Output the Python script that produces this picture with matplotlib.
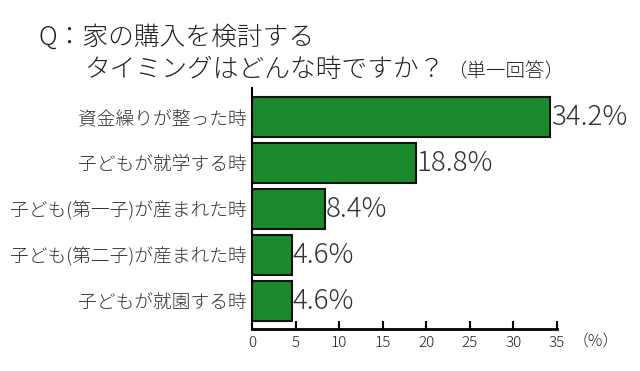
import matplotlib
matplotlib.use("Agg")
import matplotlib.pyplot as plt

plt.rcParams['font.family'] = ['Noto Sans CJK JP', 'DejaVu Sans']
plt.rcParams['font.weight'] = 'light'

# answers, top to bottom
labels = ['資金繰りが整った時', '子どもが就学する時', '子ども(第一子)が産まれた時',
          '子ども(第二子)が産まれた時', '子どもが就園する時']
values = [34.2, 18.8, 8.4, 4.6, 4.6]
xticks = [0, 5, 10, 15, 20, 25, 30, 35]

fig = plt.figure(figsize=(6.4, 3.71), dpi=100)
ax = fig.add_axes([252 / 640, 1 - 329 / 371, (557 - 252) / 640, (329 - 88) / 371])

ypos = list(range(len(values)))
ax.barh(ypos, values, height=0.88, color='#1b8a2c', edgecolor='#111111', linewidth=1.5)
for y, v in zip(ypos, values):
    ax.text(v + 0.1, y, f'{v}%', va='center', ha='left', fontsize=20, color='#333333')

ax.set_yticks(ypos)
ax.set_yticklabels(labels, fontsize=13.5, color='#333333')
ax.tick_params(axis='y', length=0, pad=4)
ax.set_ylim(4.61, -0.63)

ax.set_xlim(0, 35)
ax.set_xticks(xticks)
ax.set_xticklabels([str(t) for t in xticks], fontsize=11, color='#222222')
ax.tick_params(axis='x', direction='in', length=6, width=1.5, pad=5)

for s in ['top', 'right']:
    ax.spines[s].set_visible(False)
ax.spines['bottom'].set_linewidth(2)
ax.spines['left'].set_linewidth(1.5)

fig.text(573 / 640, 1 - 342 / 371, '（%）', fontsize=11.5, va='center', ha='left', color='#222222')

# title
fig.text(38 / 640, 1 - 37 / 371, 'Q：家の購入を検討する', fontsize=18.5, va='center', ha='left', color='#222222')
fig.text(84 / 640, 1 - 70 / 371, 'タイミングはどんな時ですか？', fontsize=18.5, va='center', ha='left', color='#222222')
fig.text(447 / 640, 1 - 72 / 371, '（単一回答）', fontsize=14, va='center', ha='left', color='#222222')

fig.savefig('out.png', dpi=100)
